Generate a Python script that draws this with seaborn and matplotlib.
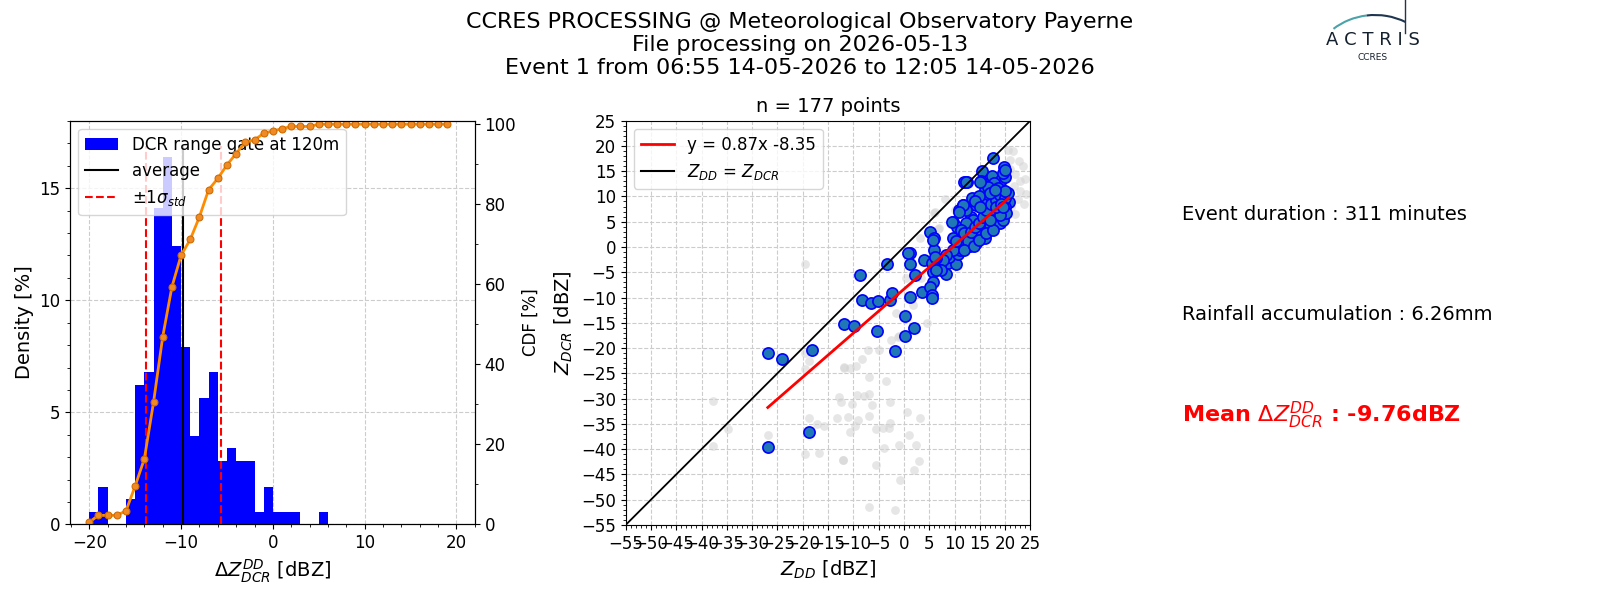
import matplotlib
matplotlib.use("Agg")
import numpy as np
import pandas as pd
import seaborn as sns
import matplotlib.pyplot as plt
from matplotlib.lines import Line2D
from matplotlib.patches import Patch, Arc
from matplotlib.ticker import AutoMinorLocator, MultipleLocator

plt.rcParams["xtick.labelsize"] = 12
plt.rcParams["ytick.labelsize"] = 12

# histogram of delta Z (1 dBZ bins), density in %
bin_left = list(range(-20, 6))
density = [0.56, 1.69, 0, 0, 1.13, 6.21, 6.78, 14.12, 16.38, 12.43, 7.91, 3.95, 5.65,
           6.78, 2.82, 3.39, 2.82, 2.82, 0.56, 1.69, 0.56, 0.56, 0.56, 0, 0, 0.56]

# cumulative distribution in %
cdf_x = list(range(-20, 20))
cdf_pct = [0.56, 2.26, 2.26, 2.26, 3.39, 9.60, 16.38, 30.51, 46.89, 59.32, 67.23, 71.19,
           76.84, 83.62, 86.44, 89.83, 92.66, 95.48, 96.05, 97.74, 98.31, 98.87, 99.44,
           99.44, 99.44, 100, 100, 100, 100, 100, 100, 100, 100, 100, 100, 100, 100, 100,
           100, 100]

n_points = 177
mean_dz = -9.76
std_dz = 4.09
slope, intercept = 0.87, -8.35

# points kept for the comparison (Z_DD, Z_DCR)
blue_x = [-26.9, -24.0, -18.2, -26.9, -18.8, -8.6, -8.3, -6.6, -5.1, -2.8, -2.4, -3.4,
          -11.9, -9.9, -5.3, -1.8, 0.3, 2.0, 0.3, 1.2, 1.3, 1.3, 2.2, 4.0, 3.6,
          5.1, 5.9, 5.9, 5.5, 5.7, 5.7, 5.1, 5.6, 5.6, 9.7, 10.5, 9.7, 10.9, 11.7, 11.9,
          12.5, 13.5, 13.3, 15.5, 15.2, 17.5, 17.6, 19.2, 19.7, 19.7, 20.7, 17.0, 18.3,
          16.3, 7.1, 8.7, 10.2, 8.4, 7.1, 9.0, 10.7, 11.7, 13.0, 14.3, 14.7, 16.3, 16.0,
          15.3, 17.0, 18.6, 18.9, 19.6, 19.9, 19.2, 17.9, 17.0, 15.6, 14.3, 12.3, 13.6,
          12.3, 11.3, 11.9, 12.6, 13.3, 14.0, 14.9, 15.6, 16.3, 17.3, 18.3, 18.9, 19.9,
          17.9, 18.6, 16.0, 14.9, 16.7, 20.2, 18.9, 11.0, 9.7, 8.4, 7.7, 6.4, 7.4, 6.4,
          6.1, 10.2, 11.9, 13.9, 14.9, 16.3, 17.6, 17.0, 18.3, 19.2, 20.5, 19.9, 19.6,
          19.9, 5.7, 12.2, 15.0, 19.9, 17.0, 18.0, 14.0, 11.7, 10.8, 15.0, 19.5, 9.6,
          0.8]
blue_y = [-21.0, -22.2, -20.4, -39.6, -36.7, -5.5, -10.4, -11.0, -10.6, -10.4, -9.1, -3.4,
          -15.2, -15.6, -16.6, -20.6, -13.6, -16.1, -17.7, -9.8, -1.1, -3.4, -5.5, -2.6, -9.0,
          3.0, 1.8, -0.6, -3.2, -5.0, -6.9, -7.9, -9.5, -10.1, 4.9, 4.0, 1.8, 7.4, 8.4, 12.9,
          12.9, 9.6, 6.0, 15.0, 13.0, 14.0, 17.7, 13.3, 15.9, 11.1, 8.8, 10.1, 11.3,
          10.1, -2.6, -3.2, -3.4, -5.3, -3.9, -1.9, -1.3, 0.4, 0.1, 0.7, 1.7, 3.7, 1.7,
          2.4, 4.4, 5.4, 4.7, 5.4, 8.0, 7.3, 6.7, 7.3, 8.6, 8.3, 7.3, 5.3,
          4.7, 3.4, 2.7, 1.1, 3.0, 4.0, 4.7, 6.0, 7.3, 8.6, 9.3, 10.3, 9.6,
          12.6, 11.6, 11.3, 10.0, 11.9, 6.7, 6.3, -0.6, -0.6, -1.6, -2.6, -2.2, -4.6, -4.6,
          -1.9, 1.1, -0.6, 0.1, 1.4, 2.7, 3.4, 5.3, 8.0, 8.6, 10.6, 13.9, 14.6,
          15.2, 1.4, 12.9, 12.9, 11.0, 10.6, 11.3, 9.0, 8.3, 7.0, 8.0, 8.0, 5.0,
          -1.2]

# points rejected by the filter
gray_x = [-37.7, -34.8, -37.7, -26.9, -19.5, -19.5, -19.6, -18.8, -19.6, -17.2, -15.7,
          -18.8, -16.7, -13.2, -12.9, -12.4, -11.9, -10.6, -9.4, -8.3, -7.1, -4.9, -6.8,
          -11.1, -10.3, -9.3, -7.9, -6.9, -6.3, -3.5, -2.8, -6.9, -9.1, -10.6, -9.7, -5.6,
          -4.1, -3.0, -2.7, -12.0, -5.6, -4.0, -1.0, -0.8, -6.9, -1.8, 0.6, 1.1, 2.4, 3.2,
          2.9, 2.0, -2.5, -1.0, -1.5, 1.7, 4.6, 0.5, 3.4, 3.2, 5.9, 6.7, 8.2, 20.6, 20.9,
          6.1, 6.9, 10.0, 21.5, 22.8, 23.5, 22.0, 24.0, 21.8, 23.0, 24.2, 22.5, 21.2, 23.8,
          22.0, 21.0, 23.0, -12.1, -1.2, -11.9]
gray_y = [-30.5, -36.0, -39.4, -37.2, -3.4, -41.0, -21.0, -22.5, -24.2, -35.0, -35.4,
          -33.9, -40.7, -33.9, -29.7, -30.7, -23.9, -24.0, -23.5, -22.2, -20.4, -20.4, -25.8,
          -33.6, -31.1, -29.3, -29.5, -29.0, -31.3, -26.6, -30.7, -33.4, -34.2, -36.7, -35.4,
          -36.1, -35.9, -35.9, -34.9, -42.2, -43.1, -39.8, -39.2, -46.1, -51.5, -52.0, -32.6,
          -37.2, -39.1, -33.9, -42.3, -44.1, -18.4, -17.7, -13.1, -11.5, -15.1, -6.2, -6.2,
          1.7, 6.8, 3.6, 9.4, 19.2, 17.2, 7.0, 3.7, 7.3, 19.0, 17.0, 16.0, 14.5, 13.5, 12.0,
          11.0, 10.5, 9.5, 8.0, 8.5, 6.5, 15.5, 13.0, -42.1, -17.9, -23.7]

fig = plt.figure(figsize=(16, 6), dpi=100)
ax1 = fig.add_axes([0.04375, 0.126, 0.253, 0.673])
ax3 = fig.add_axes([0.391, 0.125, 0.253, 0.674])

# ---- histogram + CDF ----
hist_df = pd.DataFrame({"dz": [b + 0.5 for b in bin_left], "w": density})
edges = bin_left + [bin_left[-1] + 1]
sns.histplot(data=hist_df, x="dz", weights="w", bins=edges, color="blue", alpha=1,
             linewidth=0, ax=ax1)
ax1.vlines(mean_dz, 0, 16.9, color="black", lw=1.5)
ax1.vlines([mean_dz - std_dz, mean_dz + std_dz], 0, 16.9, color="red", lw=1.5,
           linestyles="--")
ax1.set_xlim(-22.1, 22.0)
ax1.set_ylim(0, 18.02)
ax1.xaxis.set_major_locator(MultipleLocator(10))
ax1.xaxis.set_minor_locator(AutoMinorLocator())
ax1.yaxis.set_major_locator(MultipleLocator(5))
ax1.yaxis.set_minor_locator(AutoMinorLocator())
ax1.set_axisbelow(True)
ax1.grid(True, linestyle="--", color="#cccccc", lw=0.8)
ax1.set_xlabel(r"$\Delta Z_{DCR}^{DD}$ [dBZ]", fontsize=14)
ax1.set_ylabel("Density [%]", fontsize=14)
handles = [Patch(facecolor="blue"),
           Line2D([], [], color="black", lw=1.5),
           Line2D([], [], color="red", lw=1.5, ls="--")]
ax1.legend(handles, ["DCR range gate at 120m", "average", r"$\pm 1\sigma_{std}$"],
           loc="upper left", fontsize=12)

ax2 = ax1.twinx()
sns.lineplot(x=cdf_x, y=cdf_pct, ax=ax2, color="darkorange", lw=2, marker="o",
             markersize=5, markerfacecolor="#f08a24", markeredgecolor="#cc6a00")
ax2.set_ylim(0, 100.9)
ax2.yaxis.set_major_locator(MultipleLocator(20))
ax2.yaxis.set_minor_locator(AutoMinorLocator(2))
ax2.set_ylabel("CDF [%]", fontsize=12)

# ---- scatter ----
sns.scatterplot(x=gray_x, y=gray_y, ax=ax3, color="lightgray", alpha=0.55, s=40,
                linewidth=0, zorder=2)
sns.scatterplot(x=blue_x, y=blue_y, ax=ax3, color="#1f77b4", edgecolor="blue",
                linewidth=1.2, s=65, zorder=3)
fit_x = [min(blue_x), max(blue_x)]
fit_y = [slope * v + intercept for v in fit_x]
sns.lineplot(x=fit_x, y=fit_y, ax=ax3, color="red", lw=2, zorder=4)
ax3.axline((0, 0), slope=1, color="black", lw=1.3, zorder=4)
ax3.set_xlim(-55, 25)
ax3.set_ylim(-55, 25)
for axis in (ax3.xaxis, ax3.yaxis):
    axis.set_major_locator(MultipleLocator(5))
    axis.set_minor_locator(AutoMinorLocator())
ax3.set_axisbelow(True)
ax3.grid(True, linestyle="--", color="#cccccc", lw=0.8)
ax3.set_xlabel(r"$Z_{DD}$ [dBZ]", fontsize=14)
ax3.set_ylabel(r"$Z_{DCR}$ [dBZ]", fontsize=14)
ax3.set_title(f"n = {n_points} points", fontsize=14)
ax3.legend([Line2D([], [], color="red", lw=2), Line2D([], [], color="black", lw=1.5)],
           [f"y = {slope}x {intercept}", r"$Z_{DD}$ = $Z_{DCR}$"],
           loc="upper left", fontsize=12)

# ---- side texts ----
fig.text(0.739, 0.643, "Event duration : 311 minutes", fontsize=14, va="center")
fig.text(0.739, 0.475, "Rainfall accumulation : 6.26mm", fontsize=14, va="center")
fig.text(0.739, 0.308, r"Mean $\Delta Z_{DCR}^{DD}$ : -9.76dBZ", fontsize=16,
         va="center", color="red", fontweight="bold")

fig.suptitle("CCRES PROCESSING @ Meteorological Observatory Payerne\n"
             "File processing on 2026-05-13\n"
             "Event 1 from 06:55 14-05-2026 to 12:05 14-05-2026",
             fontsize=16, y=0.98, linespacing=1.18)

# ---- logo ----
lg = fig.add_axes([1300 / 1600, 1 - 65 / 600, 130 / 1600, 65 / 600])
lg.set_xlim(0, 130)
lg.set_ylim(65, 0)
lg.axis("off")
lg.add_patch(Arc((75, 75), 130, 120, theta1=228, theta2=262, color="#4aa3a8", lw=1.5))
lg.add_patch(Arc((75, 75), 130, 120, theta1=262, theta2=300, color="#1f3550", lw=1.5))
lg.plot([105, 105], [0, 33], color="#1f3550", lw=1)
lg.text(73, 45, "A C T R I S", fontsize=13, ha="center", va="baseline", color="#15202e")
lg.text(73, 57, "CCRES", fontsize=6.5, ha="center", va="center", color="#15202e")

fig.savefig("out.png", dpi=100)
